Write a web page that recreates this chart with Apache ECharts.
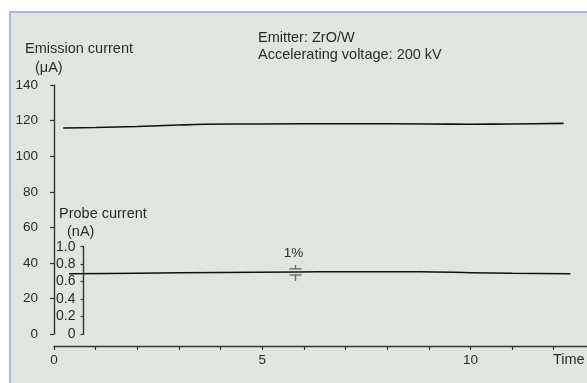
<!DOCTYPE html>
<html>
<head>
<meta charset="utf-8">
<script src="https://cdn.jsdelivr.net/npm/echarts@6/dist/echarts.min.js"></script>
<style>
  html, body { margin: 0; padding: 0; background: #ffffff; }
  #chart { width: 587px; height: 383px; }
</style>
</head>
<body>
<div id="chart"></div>
<script>
// Time axis (arbitrary time units)
const timeTicks = [0, 1, 2, 3, 4, 5, 6, 7, 8, 9, 10, 11, 12];
const timeLabels = [0, 5, 10];

// Emission current (µA) over time
const emissionTime = [0.22, 1, 2, 3, 3.6, 5, 7, 9, 10, 11, 12.24];
const emissionCurrent = [115.9, 116.2, 116.8, 117.6, 118.0, 118.2, 118.3, 118.2, 118.0, 118.2, 118.5];

// Probe current (nA) over time
const probeTime = [0.36, 2, 4, 5.8, 7, 8.8, 10, 11, 12.4];
const probeCurrent = [0.691, 0.697, 0.705, 0.711, 0.714, 0.713, 0.703, 0.695, 0.689];

// 1% stability scale bar, placed on the probe-current trace
const onePercentBar = [5.8, 0.711];

const FONT = '"Liberation Sans", Arial, sans-serif';
const NARROW = '"Liberation Sans Narrow", "Arial Narrow", ' + FONT;
const TXT = '#2b2b2b';
const AXIS = '#333333';

const chart = echarts.init(document.getElementById('chart'), null, { renderer: 'canvas' });

const pairs = (xs, ys) => xs.map((x, i) => [x, ys[i]]);

const option = {
  animation: false,
  backgroundColor: '#ffffff',
  grid: [
    { left: 54, right: 0, top: 85.2, bottom: 49 },
    { left: 54, right: 0, top: 246.7, bottom: 49 }
  ],
  xAxis: [
    {
      gridIndex: 0, type: 'value', min: 0, max: 12.8,
      offset: 12,
      splitLine: { show: false },
      axisLine: { show: true, onZero: false, lineStyle: { color: AXIS, width: 1.4 } },
      axisTick: { show: true, length: 4, customValues: timeTicks, lineStyle: { color: AXIS, width: 1.2 } },
      axisLabel: {
        customValues: timeLabels, margin: 7,
        color: TXT, fontSize: 13.5, fontFamily: FONT
      }
    },
    {
      gridIndex: 1, type: 'value', min: 0, max: 12.8, show: false
    }
  ],
  yAxis: [
    {
      gridIndex: 0, type: 'value', min: 0, max: 140, interval: 20,
      splitLine: { show: false },
      axisLine: { show: true, onZero: false, lineStyle: { color: AXIS, width: 1.4 } },
      axisTick: { show: true, length: 4, lineStyle: { color: AXIS, width: 1.2 } },
      axisLabel: { margin: 16, color: TXT, fontSize: 13.5, fontFamily: FONT }
    },
    {
      gridIndex: 1, type: 'value', min: 0, max: 1.0, interval: 0.2,
      offset: -29.5,
      splitLine: { show: false },
      axisLine: { show: true, onZero: false, lineStyle: { color: AXIS, width: 1.4 } },
      axisTick: { show: true, length: 3, lineStyle: { color: AXIS, width: 1.2 } },
      axisLabel: {
        margin: 8, color: TXT, fontSize: 14, fontFamily: NARROW,
        formatter: v => (v === 0 ? '0' : v.toFixed(1))
      }
    }
  ],
  graphic: [
    {
      type: 'rect', z: -10, silent: true,
      shape: { x: 10, y: 12, width: 600, height: 400 },
      style: { fill: '#e1e5e0', stroke: '#a6badb', lineWidth: 2 }
    },
    { type: 'text', left: 258, top: 30, style: { text: 'Emitter: ZrO/W', font: '14.5px ' + FONT, fill: TXT } },
    { type: 'text', left: 258, top: 47, style: { text: 'Accelerating voltage: 200 kV', font: '14.5px ' + FONT, fill: TXT } },
    { type: 'text', left: 25, top: 41, style: { text: 'Emission current', font: '14.5px ' + FONT, fill: TXT } },
    { type: 'text', left: 35, top: 60, style: { text: '(μA)', font: '14.5px ' + FONT, fill: TXT } },
    { type: 'text', left: 59, top: 206, style: { text: 'Probe current', font: '14.5px ' + FONT, fill: TXT } },
    { type: 'text', left: 67, top: 224, style: { text: '(nA)', font: '14.5px ' + FONT, fill: TXT } },
    { type: 'text', left: 553, top: 352, style: { text: 'Time', font: '14.5px ' + FONT, fill: TXT } }
  ],
  series: [
    {
      name: 'Emission current', type: 'line',
      xAxisIndex: 0, yAxisIndex: 0,
      data: pairs(emissionTime, emissionCurrent),
      smooth: 0.3, showSymbol: false,
      lineStyle: { color: '#111111', width: 1.6 }
    },
    {
      name: 'Probe current', type: 'line',
      xAxisIndex: 1, yAxisIndex: 1,
      data: pairs(probeTime, probeCurrent),
      smooth: 0.3, showSymbol: false,
      lineStyle: { color: '#111111', width: 1.5 }
    },
    {
      name: '1% bar', type: 'custom',
      xAxisIndex: 1, yAxisIndex: 1,
      data: [onePercentBar],
      z: 5,
      renderItem: function (params, api) {
        const p = api.coord([api.value(0), api.value(1)]);
        const x = p[0], y = p[1];
        const st = { stroke: '#6a6a6a', lineWidth: 1.4 };
        return {
          type: 'group',
          children: [
            { type: 'line', shape: { x1: x - 6, y1: y - 3, x2: x + 6, y2: y - 3 }, style: st },
            { type: 'line', shape: { x1: x - 6, y1: y + 3, x2: x + 6, y2: y + 3 }, style: st },
            { type: 'line', shape: { x1: x, y1: y - 7, x2: x, y2: y - 3 }, style: st },
            { type: 'line', shape: { x1: x, y1: y + 3, x2: x, y2: y + 9 }, style: st },
            {
              type: 'text',
              style: {
                text: '1%', x: x - 2, y: y - 19,
                align: 'center', verticalAlign: 'middle',
                font: '13.5px ' + FONT, fill: TXT
              }
            }
          ]
        };
      }
    }
  ]
};

chart.setOption(option);
</script>
</body>
</html>
